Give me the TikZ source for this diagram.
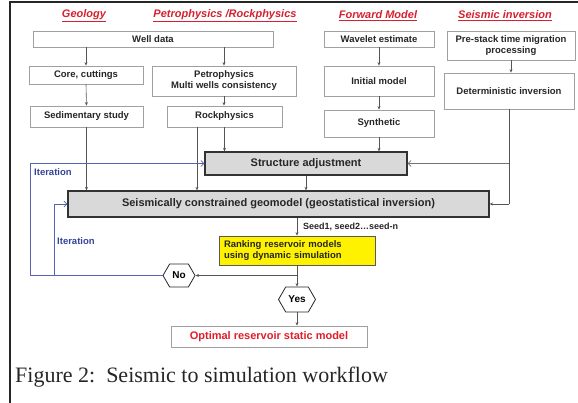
\documentclass[tikz,border=0pt]{standalone}
\usepackage{fontspec}
\setmainfont{Liberation Serif}
\newfontfamily\arial{Liberation Sans}
\usetikzlibrary{arrows.meta,shapes.symbols}
\definecolor{hdred}{HTML}{D42030}
\definecolor{optred}{HTML}{E01E2A}
\definecolor{itblue}{HTML}{5565B5}
\definecolor{ittext}{HTML}{34449A}
\definecolor{boxgray}{HTML}{A0A0A0}
\definecolor{fillgray}{HTML}{D9D9D9}
\definecolor{linegray}{HTML}{555555}
\definecolor{rankyellow}{HTML}{FFF200}
\tikzset{
  box/.style={draw=boxgray, line width=0.8pt, fill=white, inner sep=1pt, align=center,
    font=\arial\fontsize{9.5}{11}\selectfont\bfseries, text=black!85},
  bigbox/.style={draw=black!80, line width=1.2pt, fill=fillgray, inner sep=1pt, align=center,
    font=\arial\fontsize{11}{13}\selectfont\bfseries, text=black!85},
  hdr/.style={font=\arial\fontsize{11}{13}\selectfont\bfseries\itshape, text=hdred, inner sep=0pt},
  hexa/.style={draw=black!85, line width=0.8pt, fill=white, shape=signal, signal to=west and east,
    signal pointer angle=120, inner sep=0pt, font=\arial\fontsize{10}{12}\selectfont\bfseries},
  arr/.style={draw=linegray, line width=0.6pt, -{Stealth[length=3.5pt,width=3pt]}},
  con/.style={draw=linegray, line width=0.6pt},
  itarr/.style={draw=itblue, line width=0.7pt, -{Straight Barb[length=3pt,width=6pt]}},
  itline/.style={draw=itblue, line width=0.7pt},
  grayarr/.style={draw=black!55, line width=0.8pt, -{Straight Barb[length=3pt,width=6pt]}},
  itlabel/.style={font=\arial\fontsize{9.5}{11}\selectfont\bfseries, text=ittext, inner sep=0pt, anchor=west},
}
\begin{document}
\begin{tikzpicture}[x=1pt,y=-1pt]
\useasboundingbox (0,0) rectangle (578,403);
% frame
\draw[line width=2pt, black!85] (10,403) -- (10,2) -- (578,2);
% headers
\node[hdr] (h1) at (84,16) {\underline{Geology}};
\node[hdr] (h2) at (225,16) {\underline{Petrophysics /Rockphysics}};
\node[hdr] (h3) at (378,16) {\underline{Forward Model}};
\node[hdr] (h4) at (505,16) {\underline{Seismic inversion}};
% boxes
\node[box, minimum width=240pt, minimum height=16pt] (well) at (153,39) {Well data};
\node[box, minimum width=114pt, minimum height=18pt] (core) at (86,75) {Core, cuttings};
\node[box, minimum width=144pt, minimum height=30pt] (petro) at (224,81) {Petrophysics\\Multi wells consistency};
\node[box, minimum width=113pt, minimum height=21pt] (sed) at (86.5,116.5) {Sedimentary study};
\node[box, minimum width=115pt, minimum height=21pt] (rock) at (224.5,116.5) {Rockphysics};
\node[box, minimum width=110pt, minimum height=16pt] (wave) at (379,39) {Wavelet estimate};
\node[box, minimum width=110pt, minimum height=30pt] (init) at (379,81) {Initial model};
\node[box, minimum width=110pt, minimum height=27pt] (synth) at (379,123.5) {Synthetic};
\node[box, minimum width=128pt, minimum height=29pt] (pre) at (511,45.5) {Pre-stack time migration\\processing};
\node[box, minimum width=130pt, minimum height=36pt] (det) at (509,91) {Deterministic inversion};
\node[bigbox, minimum width=202pt, minimum height=23pt] (struct) at (306,163.5) {Structure adjustment};
\node[bigbox, minimum width=421pt, minimum height=26pt] (geo) at (278.5,204) {Seismically constrained geomodel (geostatistical inversion)};
\node[box, draw=black!65, fill=rankyellow, minimum width=156pt, minimum height=29pt, align=left, text width=146pt] (rank) at (297,250.5) {Ranking reservoir models\\using dynamic simulation};
\node[hexa, minimum width=32pt, minimum height=23pt] (no) at (179,275.5) {No};
\node[hexa, minimum width=37pt, minimum height=25pt] (yes) at (297,299.5) {Yes};
\node[box, minimum width=196pt, minimum height=21pt, text=optred, font=\arial\fontsize{11}{13}\selectfont\bfseries] (opt) at (269,336.5) {Optimal reservoir static model};
% labels
\node[itlabel] (it1) at (34,171.7) {Iteration};
\node[itlabel] (it2) at (57,241) {Iteration};
\node[font=\arial\fontsize{9}{11}\selectfont\bfseries, text=black!85, inner sep=0pt, anchor=west] (seed) at (303,227) {Seed1, seed2\ldots seed-n};
\node[font=\fontsize{22}{26}\selectfont, text=black!85, inner sep=0pt, anchor=west] (cap) at (15,377) {Figure 2:\ \ Seismic to simulation workflow};
% coordinates
\coordinate (rockL) at (197,127);
\coordinate (outerX) at (30,275.5);
\coordinate (innerX) at (54,275.5);
\coordinate (detX) at (509,109);
% connectors
\draw[arr] (core.north |- well.south) -- (core.north);
\draw[arr] (petro.north |- well.south) -- (petro.north);
\draw[arr] (core.south) -- (sed.north);
\draw[arr] (petro.south) -- (petro.south |- rock.north);
\draw[arr] (sed.south) -- (sed.south |- geo.north);
\draw[arr] (rockL) -- (rockL |- geo.north);
\draw[arr] (rock.south) -- (rock.south |- struct.north);
\draw[arr] (wave.south) -- (init.north);
\draw[arr] (init.south) -- (synth.north);
\draw[arr] (synth.south) -- (synth.south |- struct.north);
\draw[arr] (pre.south) -- (pre.south |- det.north);
\draw[arr] (struct.south) -- (struct.south |- geo.north);
\draw[con] (detX) -- (detX |- geo.east);
\draw[grayarr] (detX |- struct.east) -- (struct.east);
\draw[arr] (detX |- geo.east) -- (geo.east);
\draw[arr] (geo.south -| rank.north) -- (rank.north);
\draw[arr] (rank.south) -- (yes.north);
\draw[arr] (rank.south |- no.east) -- (no.east);
\draw[arr] (yes.south) -- (yes.south |- opt.north);
% iteration loops
\draw[itline] (no.west) -- (outerX);
\draw[itarr] (outerX) -- (outerX |- struct.west) -- (struct.west);
\draw[itarr] (innerX) -- (innerX |- geo.west) -- (geo.west);
\end{tikzpicture}
\end{document}
